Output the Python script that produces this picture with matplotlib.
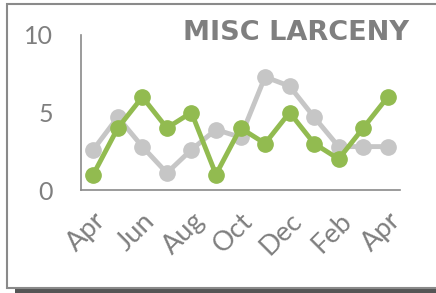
import matplotlib.pyplot as plt
from matplotlib.patches import Rectangle

# Données
mois = ['Apr', 'May', 'Jun', 'Jul', 'Aug', 'Sep', 'Oct', 'Nov', 'Dec', 'Jan', 'Feb', 'Mar', 'Apr']
serie_verte = [1, 4, 6, 4, 5, 1, 4, 3, 5, 3, 2, 4, 6]
serie_grise = [2.6, 4.7, 2.8, 1.1, 2.6, 3.9, 3.4, 7.3, 6.7, 4.7, 2.8, 2.8, 2.8]
titre = 'MISC LARCENY'

gris_texte = '#7f7f7f'
vert = '#92bb50'
gris_clair = '#c6c6c6'

fig = plt.figure(figsize=(4.36, 2.93), dpi=100)
W, H = 436, 293

# Cadre extérieur avec ombre
fig.patches.append(Rectangle((15 / W, 0), 1, 4 / H, transform=fig.transFigure,
                             facecolor='#555555', edgecolor='none', zorder=-10))
fig.patches.append(Rectangle((7 / W, 5 / H), 1, (288 - 4) / H, transform=fig.transFigure,
                             facecolor='white', edgecolor='#8a8a8a', linewidth=1.5, zorder=-9))

ax = fig.add_axes([81 / W, (H - 190) / H, (400 - 81) / W, (190 - 35) / H])
x = list(range(len(mois)))
ax.plot(x, serie_grise, color=gris_clair, linewidth=3.5, marker='o', markersize=11, zorder=2)
ax.plot(x, serie_verte, color=vert, linewidth=3.5, marker='o', markersize=11, zorder=3)

ax.set_xlim(-0.5, 12.5)
ax.set_ylim(0, 10)
ax.set_yticks([0, 5, 10])
ax.set_xticks(x[::2])
ax.set_xticklabels(mois[::2], rotation=45, ha='right', va='top', rotation_mode='anchor')
ax.tick_params(axis='y', length=0, pad=20, labelsize=18, labelcolor=gris_texte)
ax.tick_params(axis='x', length=0, pad=13, labelsize=19.5, labelcolor=gris_texte)
for s in ['top', 'right']:
    ax.spines[s].set_visible(False)
for s in ['left', 'bottom']:
    ax.spines[s].set_color('#8a8a8a')
    ax.spines[s].set_linewidth(1.2)
for lab in ax.get_xticklabels() + ax.get_yticklabels():
    lab.set_fontfamily('Lato')
ax.patch.set_visible(False)

fig.text(409 / W, (H - 33) / H, titre, ha='right', va='center', fontsize=19.5,
         fontweight='bold', color=gris_texte, family='DejaVu Sans')

plt.savefig('out.png', dpi=100)
